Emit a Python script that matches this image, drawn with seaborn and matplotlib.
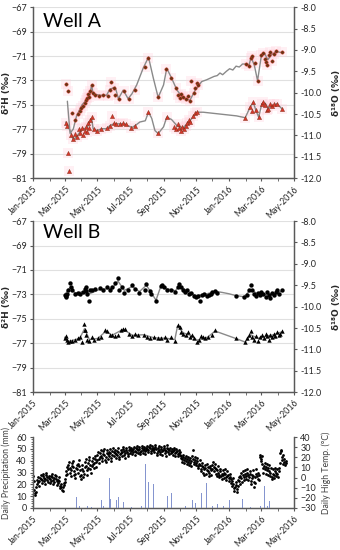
import pandas as pd
import seaborn as sns
import matplotlib.pyplot as plt
import matplotlib.dates as mdates
from matplotlib.ticker import MultipleLocator, FormatStrFormatter

# ---------------- Well A ----------------
# upper series, d18O (right axis) - sample points
a_o18_dates = ['2015-03-04', '2015-03-07', '2015-03-14', '2015-03-20', '2015-03-26', '2015-03-29',
               '2015-04-01', '2015-04-04', '2015-04-07', '2015-04-09', '2015-04-12', '2015-04-14',
               '2015-04-16', '2015-04-18', '2015-04-20', '2015-04-22', '2015-04-26', '2015-05-03',
               '2015-05-12', '2015-05-20', '2015-05-24', '2015-05-26', '2015-06-01', '2015-06-03',
               '2015-06-10', '2015-06-20', '2015-06-28', '2015-07-10', '2015-07-28', '2015-08-04',
               '2015-08-22', '2015-09-06', '2015-09-14', '2015-09-24', '2015-09-28', '2015-10-01',
               '2015-10-04', '2015-10-08', '2015-10-12', '2015-10-16', '2015-10-20', '2015-10-22',
               '2015-10-27', '2015-10-30', '2015-11-02', '2015-11-05',
               '2016-02-02', '2016-02-07', '2016-02-10', '2016-02-12', '2016-02-18', '2016-02-23',
               '2016-03-01', '2016-03-04', '2016-03-08', '2016-03-10', '2016-03-12', '2016-03-15',
               '2016-03-18', '2016-03-20', '2016-03-24', '2016-03-28', '2016-04-08']
a_o18 = [-9.80, -9.97, -10.48, -10.65, -10.50, -10.42,
         -10.35, -10.30, -10.25, -10.18, -10.12, -10.02,
         -10.10, -9.95, -9.82, -10.00, -10.05, -10.08,
         -10.05, -10.08, -9.93, -9.74, -9.90, -10.05,
         -10.14, -9.95, -10.14, -9.93, -9.40, -9.20,
         -10.10, -9.45, -9.65, -9.90, -10.05, -10.12,
         -10.02, -10.10, -10.15, -10.08, -10.20, -9.72,
         -10.00, -9.90, -9.78, -9.82,
         -9.33, -9.38, -9.20, -9.15, -9.30, -9.72,
         -9.12, -9.08, -9.22, -9.28, -9.35, -9.12,
         -9.05, -9.25, -9.10, -9.03, -9.06]
# upper series, smoothed line
a_o18_line_dates = ['2015-03-06', '2015-03-11', '2015-03-17', '2015-03-23', '2015-04-02', '2015-04-11',
                    '2015-04-17', '2015-04-20', '2015-04-23', '2015-05-06', '2015-05-18', '2015-05-24',
                    '2015-06-03', '2015-06-09', '2015-06-18', '2015-06-27', '2015-07-04', '2015-07-13',
                    '2015-07-25', '2015-08-04', '2015-08-13', '2015-08-22', '2015-09-01', '2015-09-07',
                    '2015-09-16', '2015-09-26', '2015-10-07', '2015-10-20', '2015-10-30', '2015-11-11',
                    '2015-11-20', '2015-11-27', '2015-12-04', '2015-12-10', '2015-12-15', '2015-12-20',
                    '2015-12-27', '2016-01-02', '2016-01-08', '2016-01-14', '2016-01-20', '2016-01-26',
                    '2016-02-02', '2016-02-07', '2016-02-11', '2016-02-17', '2016-02-23', '2016-03-01',
                    '2016-03-07', '2016-03-13', '2016-03-20', '2016-03-29', '2016-04-07']
a_o18_line = [-10.20, -10.95, -10.85, -10.55, -10.29, -10.16,
              -10.05, -9.82, -10.03, -10.06, -10.06, -9.92,
              -9.87, -10.14, -9.94, -10.14, -10.03, -9.82,
              -9.43, -9.17, -9.66, -10.11, -9.82, -9.43,
              -9.66, -9.94, -10.12, -10.18, -9.94, -9.74,
              -9.70, -9.66, -9.62, -9.60, -9.54, -9.58,
              -9.50, -9.44, -9.47, -9.38, -9.40, -9.33,
              -9.33, -9.36, -9.17, -9.36, -9.72, -9.14,
              -9.08, -9.23, -9.11, -9.04, -9.06]

# lower series, d2H (left axis) - sample points
a_h2_dates = ['2015-03-03', '2015-03-05', '2015-03-08', '2015-03-09', '2015-03-12', '2015-03-16',
              '2015-03-20', '2015-03-24', '2015-03-27', '2015-03-30', '2015-04-02', '2015-04-05',
              '2015-04-07', '2015-04-09', '2015-04-11', '2015-04-13', '2015-04-15', '2015-04-18',
              '2015-04-20', '2015-04-24', '2015-04-30', '2015-05-08', '2015-05-18', '2015-05-24',
              '2015-05-28', '2015-05-31', '2015-06-05', '2015-06-12', '2015-06-18', '2015-06-24',
              '2015-07-02', '2015-07-10', '2015-08-04', '2015-08-22', '2015-09-07', '2015-09-20',
              '2015-09-24', '2015-09-27', '2015-09-30', '2015-10-03', '2015-10-06', '2015-10-09',
              '2015-10-12', '2015-10-15', '2015-10-18', '2015-10-21', '2015-10-25', '2015-10-29',
              '2015-11-02', '2016-01-31', '2016-02-09', '2016-02-12', '2016-02-15', '2016-02-20',
              '2016-02-25', '2016-03-02', '2016-03-05', '2016-03-08', '2016-03-12', '2016-03-14',
              '2016-03-17', '2016-03-21', '2016-03-25', '2016-03-30', '2016-04-08']
a_h2 = [-76.5, -76.7, -78.9, -80.4, -77.5, -77.8,
        -77.4, -77.6, -77.0, -77.3, -76.9, -77.5,
        -77.1, -76.8, -77.2, -76.5, -76.9, -76.2,
        -76.0, -77.0, -77.1, -77.0, -76.9, -76.7,
        -75.9, -76.5, -76.6, -76.6, -76.5, -76.6,
        -76.9, -76.7, -75.6, -77.3, -76.0, -76.8,
        -77.0, -76.6, -76.9, -77.1, -76.8, -77.0,
        -76.7, -76.5, -76.2, -76.4, -75.9, -75.7,
        -75.6, -76.05, -75.2, -75.5, -74.8, -75.4,
        -76.0, -74.9, -74.8, -75.0, -75.4, -75.3,
        -74.9, -75.1, -74.9, -74.9, -75.3]
a_h2_line_dates = ['2015-03-03', '2015-03-11', '2015-03-17', '2015-03-23', '2015-03-30', '2015-04-05',
                   '2015-04-11', '2015-04-17', '2015-04-20', '2015-04-23', '2015-04-30', '2015-05-09',
                   '2015-05-18', '2015-05-24', '2015-05-31', '2015-06-09', '2015-06-21', '2015-06-27',
                   '2015-07-04', '2015-07-10', '2015-07-19', '2015-07-29', '2015-08-04', '2015-08-10',
                   '2015-08-16', '2015-08-22', '2015-09-01', '2015-09-07', '2015-09-16', '2015-09-26',
                   '2015-10-07', '2015-10-20', '2015-11-02', '2015-11-14', '2015-12-15', '2016-01-15',
                   '2016-01-31', '2016-02-09', '2016-02-15', '2016-02-20', '2016-02-25', '2016-03-02',
                   '2016-03-08', '2016-03-14', '2016-03-21', '2016-03-30', '2016-04-08']
a_h2_line = [-76.4, -77.1, -77.85, -77.6, -77.2, -76.95,
             -76.9, -76.4, -76.1, -76.95, -77.1, -76.95,
             -76.95, -76.7, -76.55, -76.55, -76.55, -76.7,
             -76.85, -76.7, -76.4, -76.3, -75.6, -76.1,
             -77.1, -77.35, -76.8, -76.0, -76.2, -76.7,
             -76.9, -76.3, -75.6, -75.6, -75.75, -75.9,
             -76.05, -75.2, -74.8, -75.45, -76.0, -74.9,
             -74.85, -75.3, -75.1, -74.9, -75.3]

# ---------------- Well B ----------------
b_o18_dates = ['2015-03-01', '2015-03-03', '2015-03-04', '2015-03-06', '2015-03-08', '2015-03-11',
               '2015-03-13', '2015-03-15', '2015-03-20', '2015-03-26', '2015-03-29', '2015-04-05',
               '2015-04-07', '2015-04-09', '2015-04-10', '2015-04-12', '2015-04-16', '2015-04-18',
               '2015-04-21', '2015-04-27', '2015-05-05', '2015-05-12', '2015-05-18', '2015-05-24',
               '2015-05-29', '2015-06-02', '2015-06-08', '2015-06-11', '2015-06-15', '2015-06-20',
               '2015-06-26', '2015-07-05', '2015-07-09', '2015-07-18', '2015-07-28', '2015-07-31',
               '2015-08-06', '2015-08-09', '2015-08-18', '2015-08-27', '2015-08-30', '2015-09-02',
               '2015-09-08', '2015-09-15', '2015-09-23', '2015-09-28', '2015-09-30', '2015-10-03',
               '2015-10-07', '2015-10-11', '2015-10-14', '2015-10-18', '2015-10-22', '2015-10-27',
               '2015-10-31', '2015-11-05', '2015-11-08', '2015-11-11', '2015-11-16', '2015-11-20',
               '2015-11-24', '2015-11-28', '2015-12-01', '2015-12-06', '2015-12-10', '2016-01-13',
               '2016-01-29', '2016-02-03', '2016-02-07', '2016-02-10', '2016-02-12', '2016-02-16',
               '2016-02-20', '2016-02-23', '2016-02-27', '2016-03-01', '2016-03-05', '2016-03-09',
               '2016-03-12', '2016-03-16', '2016-03-18', '2016-03-21', '2016-03-25', '2016-03-29',
               '2016-03-31', '2016-04-03', '2016-04-08']
b_o18 = [-9.72, -9.78, -9.75, -9.70, -9.62, -9.45,
         -9.55, -9.62, -9.70, -9.68, -9.70, -9.65,
         -9.58, -9.55, -9.64, -9.70, -9.88, -9.62,
         -9.60, -9.58, -9.57, -9.60, -9.55, -9.60,
         -9.55, -9.45, -9.34, -9.62, -9.55, -9.68,
         -9.60, -9.50, -9.58, -9.68, -9.60, -9.48,
         -9.63, -9.70, -9.88, -9.52, -9.50, -9.55,
         -9.60, -9.62, -9.66, -9.55, -9.48, -9.55,
         -9.60, -9.65, -9.62, -9.70, -9.68, -9.74,
         -9.78, -9.74, -9.88, -9.72, -9.70, -9.75,
         -9.72, -9.70, -9.66, -9.63, -9.68, -9.74,
         -9.77, -9.72, -9.60, -9.50, -9.62, -9.70,
         -9.75, -9.68, -9.72, -9.65, -9.70, -9.78,
         -9.66, -9.72, -9.80, -9.68, -9.73, -9.65,
         -9.60, -9.70, -9.62]
b_o18_line_dates = ['2015-03-01', '2015-03-11', '2015-03-20', '2015-04-05', '2015-04-16', '2015-05-05',
                    '2015-05-29', '2015-06-08', '2015-06-20', '2015-07-05', '2015-07-18', '2015-07-31',
                    '2015-08-18', '2015-08-27', '2015-09-08', '2015-09-23', '2015-09-30', '2015-10-14',
                    '2015-10-31', '2015-11-16', '2015-12-06', '2015-12-20', '2016-01-01', '2016-01-13',
                    '2016-01-29', '2016-02-10', '2016-02-23', '2016-03-09', '2016-03-25', '2016-04-08']
b_o18_line = [-9.72, -9.55, -9.68, -9.65, -9.70, -9.60,
              -9.57, -9.40, -9.62, -9.53, -9.65, -9.50,
              -9.85, -9.52, -9.58, -9.63, -9.52, -9.62,
              -9.74, -9.72, -9.64, -9.67, -9.70, -9.74,
              -9.77, -9.60, -9.70, -9.72, -9.70, -9.64]

b_h2_dates = ['2015-03-01', '2015-03-03', '2015-03-05', '2015-03-08', '2015-03-11', '2015-03-15',
              '2015-03-20', '2015-03-26', '2015-03-29', '2015-04-03', '2015-04-06', '2015-04-07',
              '2015-04-08', '2015-04-10', '2015-04-12', '2015-04-16', '2015-04-20', '2015-04-25',
              '2015-05-02', '2015-05-08', '2015-05-15', '2015-05-19', '2015-05-24', '2015-05-28',
              '2015-06-03', '2015-06-08', '2015-06-14', '2015-06-18', '2015-06-22', '2015-06-28',
              '2015-07-05', '2015-07-10', '2015-07-16', '2015-07-26', '2015-08-01', '2015-08-06',
              '2015-08-14', '2015-08-22', '2015-08-28', '2015-09-03', '2015-09-08', '2015-09-15',
              '2015-09-22', '2015-09-27', '2015-10-01', '2015-10-04', '2015-10-08', '2015-10-12',
              '2015-10-16', '2015-10-20', '2015-10-24', '2015-10-28', '2015-11-02', '2015-11-06',
              '2015-11-10', '2015-11-14', '2015-11-18', '2015-11-22', '2015-12-01', '2015-12-06',
              '2016-01-13', '2016-01-31', '2016-02-04', '2016-02-07', '2016-02-10', '2016-02-13',
              '2016-02-17', '2016-02-20', '2016-02-24', '2016-02-27', '2016-03-02', '2016-03-06',
              '2016-03-09', '2016-03-12', '2016-03-15', '2016-03-18', '2016-03-21', '2016-03-24',
              '2016-03-27', '2016-03-30', '2016-04-02', '2016-04-05', '2016-04-09']
b_h2 = [-76.6, -76.4, -76.75, -76.9, -76.85, -76.8,
        -76.7, -76.6, -76.5, -76.9, -75.4, -75.9,
        -75.95, -76.3, -76.7, -76.8, -76.5, -76.7,
        -76.6, -76.5, -75.95, -76.0, -76.3, -76.35,
        -76.4, -76.3, -75.9, -75.8, -75.85, -76.2,
        -76.4, -76.2, -76.3, -76.3, -76.5, -76.6,
        -76.5, -76.6, -76.6, -76.5, -76.7, -76.5,
        -76.8, -75.5, -75.7, -76.05, -76.2, -76.3,
        -76.1, -76.5, -76.3, -76.6, -76.9, -76.7,
        -76.4, -76.5, -76.6, -76.45, -76.3, -75.95,
        -76.6, -76.9, -76.6, -76.3, -76.0, -76.5,
        -76.7, -76.4, -76.8, -76.5, -76.3, -76.6,
        -76.2, -76.4, -76.7, -76.3, -76.5, -76.2,
        -76.4, -76.1, -76.3, -76.2, -76.0]
b_h2_line_dates = ['2015-03-01', '2015-03-08', '2015-03-29', '2015-04-07', '2015-04-16', '2015-05-02',
                   '2015-05-17', '2015-05-28', '2015-06-18', '2015-07-05', '2015-07-26', '2015-08-14',
                   '2015-09-08', '2015-09-22', '2015-09-27', '2015-10-08', '2015-10-24', '2015-11-02',
                   '2015-11-22', '2015-12-06', '2016-01-13', '2016-01-31', '2016-02-10', '2016-02-24',
                   '2016-03-12', '2016-03-24', '2016-04-09']
b_h2_line = [-76.5, -76.85, -76.6, -75.8, -76.7, -76.6,
             -76.0, -76.35, -75.85, -76.35, -76.3, -76.55,
             -76.6, -76.7, -75.6, -76.15, -76.4, -76.75,
             -76.5, -76.0, -76.6, -76.9, -76.3, -76.6,
             -76.4, -76.3, -76.05]

# ---------------- Weather ----------------
# daily high temperature (deg C), one value per day from 2015-01-01
temp_by_month = [
    [2, -3, -12, -15, -17, -14, -9, -6, -2, 1, -4, -8, -3, 0, 3, -1, -5, -2, 2, 4, 0, -3, -6, -1, 3, 5, 1, -2, -4, 0, 2],
    [-1, -5, -3, 2, 4, 1, -2, -6, -4, 0, 3, 2, -1, -3, -7, -5, -2, 1, -3, -8, -10, -6, -9, -12, -13, -9, -5, -7],
    [-4, -1, 3, 6, 10, 4, 8, 12, 15, 9, 5, 2, 7, 11, 14, 16, 10, 6, 3, 0, 4, 9, 12, 8, 5, 13, 17, 11, 7, 2, -1],
    [3, 8, 12, 6, 1, 4, 10, 15, 18, 11, 7, 3, 9, 14, 17, 20, 12, 8, 5, 11, 16, 19, 13, 9, 14, 18, 21, 15, 10, 17],
    [22, 25, 18, 14, 20, 24, 27, 21, 16, 19, 23, 26, 28, 22, 17, 15, 20, 24, 27, 23, 18, 21, 25, 28, 24, 19, 16, 22, 26, 29, 25],
    [21, 24, 27, 23, 19, 22, 26, 29, 25, 20, 18, 23, 27, 24, 21, 25, 28, 30, 26, 22, 19, 24, 27, 29, 25, 21, 23, 27, 30, 28],
    [24, 26, 29, 27, 23, 25, 28, 30, 26, 22, 25, 29, 31, 28, 24, 27, 30, 28, 25, 23, 26, 29, 31, 27, 24, 28, 30, 26, 23, 27, 29],
    [31, 28, 25, 27, 30, 32, 29, 26, 24, 28, 31, 29, 27, 25, 28, 30, 32, 28, 24, 22, 26, 29, 31, 27, 23, 25, 28, 30, 26, 22, 27],
    [29, 31, 27, 24, 21, 26, 29, 32, 28, 25, 23, 27, 29, 26, 24, 28, 25, 22, 26, 29, 27, 24, 21, 25, 28, 26, 23, 21, 24, 27],
    [25, 22, 19, 21, 18, 15, 20, 22, 17, 14, 19, 21, 16, 13, 18, 20, 15, 12, 17, 19, 14, 11, 16, 21, 27, 18, 13, 15, 20, 17, 12],
    [14, 19, 16, 11, 9, 13, 17, 12, 8, 6, 11, 14, 10, 5, 3, 8, 12, 9, 4, 7, 13, 10, 6, 2, 5, 9, 11, 7, 3, 8],
    [12, 15, 10, 6, 9, 13, 8, 4, 2, 7, 11, 5, 1, 3, 8, 6, 2, -1, 4, 7, 3, 0, 5, 8, 4, 1, -2, 2, 6, 3, 0],
    [-3, 1, 4, -1, -5, -8, -3, 0, -6, -10, -13, -9, -4, -7, -11, -14, -8, -2, 1, -3, -6, 2, 5, 0, -4, 3, 6, 1, -2, 4, 7],
    [2, -1, 5, 8, 3, -2, 1, 6, 4, -3, -6, 0, 3, 7, 2, -4, -9, -5, 1, 4, 8, 2, -1, 5, 3, -2, 20, 22, 18],
    [16, 21, 13, 9, 5, 11, 14, 8, 4, 10, 13, 7, 3, 9, 12, 6, 2, 5, 9, 1, -1, 4, 8, 3, 0, 6, 9, 2, 5, 8, 4],
    [1, 6, 9, 14, 24, 27, 26, 20, 17, 22, 13, 15, 18, 12, 14, 16],
]
precip_dates = ['2015-03-23', '2015-03-29', '2015-04-02', '2015-04-08', '2015-04-12', '2015-04-17',
                '2015-04-20', '2015-05-09', '2015-05-12', '2015-05-23', '2015-05-25', '2015-05-30',
                '2015-06-05', '2015-06-09', '2015-06-12', '2015-06-18', '2015-06-27', '2015-07-03',
                '2015-07-10', '2015-07-14', '2015-07-22', '2015-07-29', '2015-08-04', '2015-08-13',
                '2015-08-16', '2015-08-20', '2015-08-25', '2015-09-02', '2015-09-04', '2015-09-08',
                '2015-09-16', '2015-09-24', '2015-10-05', '2015-10-12', '2015-10-18', '2015-10-22',
                '2015-10-25', '2015-10-30', '2015-11-04', '2015-11-11', '2015-11-15', '2015-11-20',
                '2015-11-23', '2015-12-01', '2015-12-06', '2015-12-10', '2015-12-15', '2015-12-22',
                '2016-01-02', '2016-01-10', '2016-01-26', '2016-02-10', '2016-02-20', '2016-02-24',
                '2016-02-28', '2016-03-04', '2016-03-07', '2016-03-12', '2016-03-16', '2016-03-21',
                '2016-03-25', '2016-03-30', '2016-04-03', '2016-04-07', '2016-04-10']
precip = [9, 2, 1, 14, 2, 5,
          1, 7, 2, 25, 8, 3,
          7, 9, 24, 5, 2, 1,
          45, 13, 2, 37, 22, 20,
          8, 3, 6, 46, 20, 10,
          13, 2, 10, 2, 3, 28,
          7, 4, 8, 13, 3, 21,
          9, 2, 38, 3, 20, 2,
          7, 1, 8, 1, 3, 5,
          2, 4, 19, 2, 6, 25,
          3, 7, 2, 20, 3]

h_ticks = [-81, -79, -77, -75, -73, -71, -69, -67]

# ---------------- plotting ----------------
sns.set_style('ticks')
plt.rcParams['font.family'] = ['Lato', 'DejaVu Sans']

SPINE = '#595959'
GRID = '#e0e0e0'
TICK_FS = 6.5

xmin, xmax = pd.Timestamp('2015-01-01'), pd.Timestamp('2016-05-01')


def style_date_axis(ax):
    ax.set_xlim(xmin, xmax)
    ax.xaxis.set_major_locator(mdates.MonthLocator(bymonth=[1, 3, 5, 7, 9, 11]))
    ax.xaxis.set_minor_locator(mdates.MonthLocator())
    ax.xaxis.set_major_formatter(mdates.DateFormatter('%b-%Y'))
    for lab in ax.get_xticklabels():
        lab.set_rotation(45)
        lab.set_ha('right')
        lab.set_rotation_mode('anchor')
        lab.set_fontsize(6.3)
    ax.tick_params(axis='x', which='both', length=2.5, color=SPINE, pad=2)
    ax.set_xlabel('')


def style_spines(ax, ax2):
    for a in (ax, ax2):
        a.spines['top'].set_visible(False)
        for s in ('left', 'right', 'bottom'):
            a.spines[s].set_color(SPINE)
            a.spines[s].set_linewidth(0.9)
    ax.tick_params(axis='y', labelsize=TICK_FS, length=2.5, color=SPINE, pad=2)
    ax2.tick_params(axis='y', labelsize=TICK_FS, length=2.5, color=SPINE, pad=2)


def isotope_panel(rect, title, o_d, o_v, o_ld, o_lv, h_d, h_v, h_ld, h_lv, well_a):
    ax = fig.add_axes(rect)
    ax2 = ax.twinx()
    ax.set_ylim(-81, -67)
    ax.set_yticks(h_ticks)
    ax2.set_ylim(-12, -8)
    ax2.yaxis.set_major_locator(MultipleLocator(0.5))
    ax2.yaxis.set_major_formatter(FormatStrFormatter('%.1f'))
    ax.grid(axis='y', color=GRID, lw=0.8)
    ax.set_axisbelow(True)

    o = pd.DataFrame({'date': pd.to_datetime(o_d), 'v': o_v})
    ol = pd.DataFrame({'date': pd.to_datetime(o_ld), 'v': o_lv})
    h = pd.DataFrame({'date': pd.to_datetime(h_d), 'v': h_v})
    hl = pd.DataFrame({'date': pd.to_datetime(h_ld), 'v': h_lv})

    if well_a:
        sns.scatterplot(data=h, x='date', y='v', ax=ax, marker='s', s=45, color='#ffd0dc',
                        alpha=0.3, linewidth=0, zorder=1)
        sns.scatterplot(data=o, x='date', y='v', ax=ax2, marker='s', s=45, color='#ffd0dc',
                        alpha=0.3, linewidth=0, zorder=1)
    sns.lineplot(data=hl, x='date', y='v', ax=ax, color='#8a8a8a', lw=1.0, zorder=2)
    sns.lineplot(data=ol, x='date', y='v', ax=ax2, color='#8a8a8a', lw=1.0, zorder=2)
    if well_a:
        sns.scatterplot(data=h, x='date', y='v', ax=ax, marker='^', s=9, color='#d8352a',
                        edgecolor='#7a2a10', linewidth=0.3, zorder=3)
        sns.scatterplot(data=o, x='date', y='v', ax=ax2, marker='o', s=6, color='#6b3414',
                        edgecolor='#d8352a', linewidth=0.3, zorder=3)
    else:
        sns.scatterplot(data=h, x='date', y='v', ax=ax, marker='^', s=10, color='black',
                        linewidth=0, zorder=3)
        sns.scatterplot(data=o, x='date', y='v', ax=ax2, marker='o', s=10, color='black',
                        linewidth=0, zorder=3)

    style_date_axis(ax)
    style_date_axis(ax2)
    style_spines(ax, ax2)
    ax.set_ylabel('δ²H (‰)', fontsize=6.5, fontweight='bold', family=['DejaVu Sans'])
    ax.yaxis.set_label_coords(-0.085, 0.5)
    ax2.set_ylabel('δ¹⁸O (‰)', fontsize=6.5, fontweight='bold', family=['DejaVu Sans'],
                   rotation=90)
    ax2.yaxis.set_label_coords(1.145, 0.5)
    ax.text(0.038, title[1], title[0], transform=ax.transAxes, fontsize=14, va='baseline',
            ha='left', color='black')
    return ax, ax2


fig = plt.figure(figsize=(3.4, 5.5), dpi=100)

isotope_panel([0.097, 0.676, 0.768, 0.311], ('Well A', 0.885),
              a_o18_dates, a_o18, a_o18_line_dates, a_o18_line,
              a_h2_dates, a_h2, a_h2_line_dates, a_h2_line, True)
isotope_panel([0.097, 0.287, 0.768, 0.311], ('Well B', 0.90),
              b_o18_dates, b_o18, b_o18_line_dates, b_o18_line,
              b_h2_dates, b_h2, b_h2_line_dates, b_h2_line, False)

# weather panel
axc = fig.add_axes([0.097, 0.0764, 0.768, 0.129])
axt = axc.twinx()
temps = [t for month in temp_by_month for t in month]
tdf = pd.DataFrame({'date': pd.date_range('2015-01-01', periods=len(temps), freq='D'), 't': temps})

sns.scatterplot(data=tdf, x='date', y='t', ax=axt, s=4, color='black', linewidth=0, zorder=3)
axc.bar(pd.to_datetime(precip_dates), precip, width=1.0, color='#8595cf', linewidth=0, zorder=1)
# precipitation bars sit above the temperature dots, as in the original
axc.set_zorder(axt.get_zorder() + 1)
axc.patch.set_visible(False)

axc.set_ylim(0, 60)
axc.yaxis.set_major_locator(MultipleLocator(10))
axc.yaxis.set_minor_locator(MultipleLocator(2))
axt.set_ylim(-30, 40)
axt.yaxis.set_major_locator(MultipleLocator(10))
style_date_axis(axc)
style_date_axis(axt)
style_spines(axc, axt)
axc.tick_params(axis='y', which='minor', length=1.5, color=SPINE)
axc.set_ylabel('Daily Precipitation (mm)', fontsize=6.3, color='#404040')
axc.yaxis.set_label_coords(-0.085, 0.5)
axt.set_ylabel('Daily High Temp. (°C)', fontsize=6.3, color='#404040', rotation=90)
axt.yaxis.set_label_coords(1.105, 0.5)

fig.savefig('out.png', dpi=100)
